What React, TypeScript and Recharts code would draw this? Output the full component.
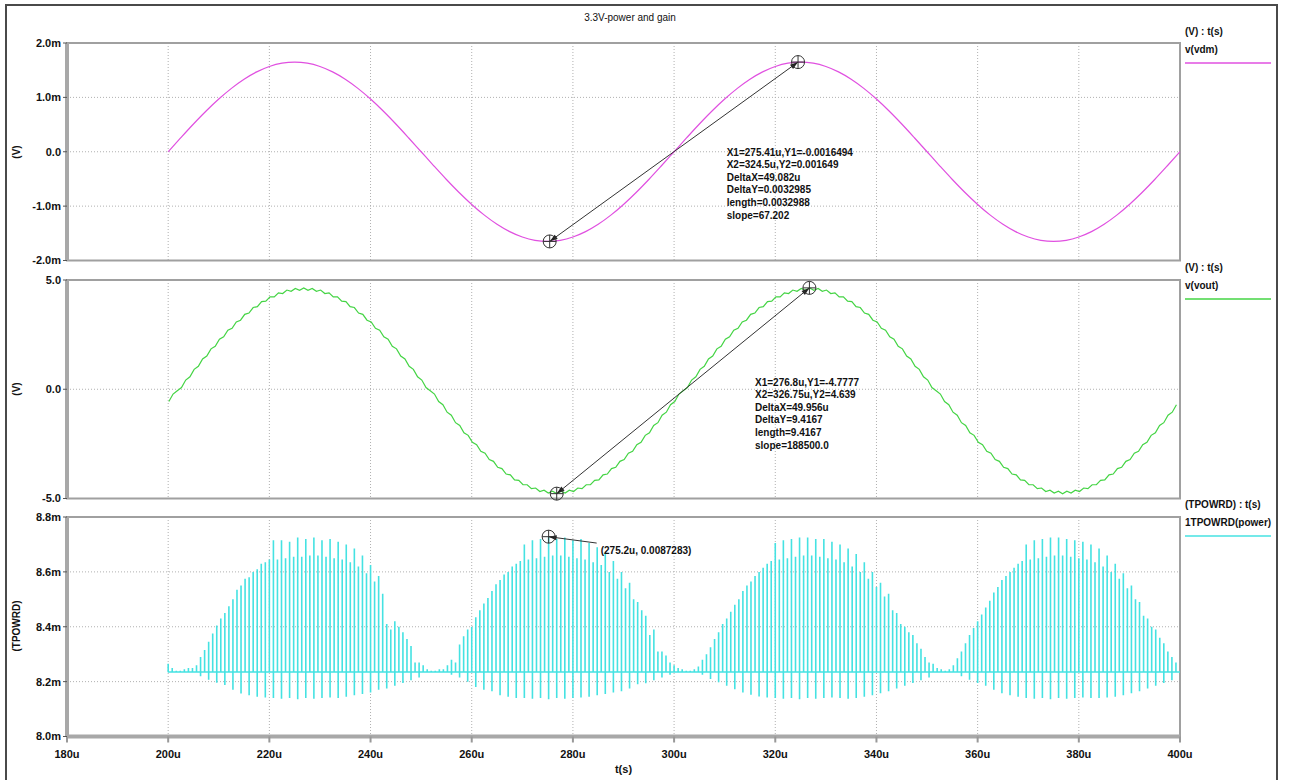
import React from 'react';
import {
  LineChart,
  Line,
  XAxis,
  YAxis,
  CartesianGrid,
  ReferenceArea,
  ReferenceDot,
  ReferenceLine,
} from 'recharts';

const FONT = '"Liberation Sans", Arial, Helvetica, sans-serif';

// ---- shared time axis (microseconds) ----
const TIME_DOMAIN: [number, number] = [180, 400];
const TIME_TICKS = [180, 200, 220, 240, 260, 280, 300, 320, 340, 360, 380, 400];

// ---- v(vdm) in millivolts, one sample every 2.5 us from 200 us ----
const VDM_START_US = 200;
const VDM_STEP_US = 2.5;
const vdmMilli = [
  0, 0.258, 0.51, 0.749, 0.969, 1.166, 1.334, 1.469, 1.568, 1.629, 1.649,
  1.629, 1.568, 1.469, 1.334, 1.166, 0.969, 0.749, 0.51, 0.258, 0,
  -0.258, -0.51, -0.749, -0.969, -1.166, -1.334, -1.469, -1.568, -1.629, -1.649,
  -1.629, -1.568, -1.469, -1.334, -1.166, -0.969, -0.749, -0.51, -0.258, 0,
  0.258, 0.51, 0.749, 0.969, 1.166, 1.334, 1.469, 1.568, 1.629, 1.649,
  1.629, 1.568, 1.469, 1.334, 1.166, 0.969, 0.749, 0.51, 0.258, 0,
  -0.258, -0.51, -0.749, -0.969, -1.166, -1.334, -1.469, -1.568, -1.629, -1.649,
  -1.629, -1.568, -1.469, -1.334, -1.166, -0.969, -0.749, -0.51, -0.258, 0,
];
const VDM_TICKS = [-2, -1, 0, 1, 2];

// ---- v(vout) in volts, sampled every half switching period ----
const VOUT_START_US = 200.133;
const VOUT_STEP_US = 100 / 120;
const voutVolts = [
  -0.56, -0.22, -0.07, 0.08, 0.42, 0.57, 0.91, 1.05, 1.39, 1.52, 1.85, 1.97,
  2.29, 2.4, 2.7, 2.79, 3.08, 3.16, 3.43, 3.49, 3.74, 3.78, 4.01, 4.03,
  4.23, 4.23, 4.41, 4.38, 4.54, 4.48, 4.61, 4.53, 4.64, 4.53, 4.61, 4.48,
  4.54, 4.38, 4.41, 4.23, 4.23, 4.03, 4.01, 3.78, 3.74, 3.49, 3.43, 3.16,
  3.08, 2.79, 2.7, 2.4, 2.29, 1.97, 1.85, 1.52, 1.39, 1.05, 0.91, 0.57,
  0.42, 0.08, -0.07, -0.22, -0.56, -0.71, -1.05, -1.19, -1.53, -1.66, -1.99, -2.11,
  -2.43, -2.54, -2.84, -2.93, -3.22, -3.3, -3.57, -3.63, -3.88, -3.92, -4.15, -4.17,
  -4.37, -4.37, -4.55, -4.52, -4.68, -4.62, -4.75, -4.67, -4.7777, -4.67, -4.75, -4.62,
  -4.68, -4.52, -4.55, -4.37, -4.37, -4.17, -4.15, -3.92, -3.88, -3.63, -3.57, -3.3,
  -3.22, -2.93, -2.84, -2.54, -2.43, -2.11, -1.99, -1.66, -1.53, -1.19, -1.05, -0.71,
  -0.56, -0.22, -0.07, 0.08, 0.42, 0.57, 0.91, 1.05, 1.39, 1.52, 1.85, 1.97,
  2.29, 2.4, 2.7, 2.79, 3.08, 3.16, 3.43, 3.49, 3.74, 3.78, 4.01, 4.03,
  4.23, 4.23, 4.41, 4.38, 4.54, 4.48, 4.61, 4.53, 4.639, 4.53, 4.61, 4.48,
  4.54, 4.38, 4.41, 4.23, 4.23, 4.03, 4.01, 3.78, 3.74, 3.49, 3.43, 3.16,
  3.08, 2.79, 2.7, 2.4, 2.29, 1.97, 1.85, 1.52, 1.39, 1.05, 0.91, 0.57,
  0.42, 0.08, -0.07, -0.22, -0.56, -0.71, -1.05, -1.19, -1.53, -1.66, -1.99, -2.11,
  -2.43, -2.54, -2.84, -2.93, -3.22, -3.3, -3.57, -3.63, -3.88, -3.92, -4.15, -4.17,
  -4.37, -4.37, -4.55, -4.52, -4.68, -4.62, -4.75, -4.67, -4.78, -4.67, -4.75, -4.62,
  -4.68, -4.52, -4.55, -4.37, -4.37, -4.17, -4.15, -3.92, -3.88, -3.63, -3.57, -3.3,
  -3.22, -2.93, -2.84, -2.54, -2.43, -2.11, -1.99, -1.66, -1.53, -1.19, -1.05, -0.71,
];
const VOUT_TICKS = [-5, 0, 5];

// ---- 1TPOWRD(power) in milli-units: idle level, spike tops, spike bottoms ----
const POWER_START_US = 200;
const POWER_SLOT_US = 0.8;
const POWER_IDLE = 8.235;
const powerPeaks = [
  8.265, 8.25, 8.24, 8.24, 8.245, 8.25, 8.25,
  8.26, 8.29, 8.315, 8.345, 8.375, 8.405, 8.43, 8.45, 8.475, 8.5, 8.535, 8.55, 8.575, 8.58,
  8.6, 8.61, 8.63, 8.635, 8.645,
  8.715, 8.645, 8.715, 8.65, 8.71, 8.655, 8.725, 8.655, 8.72, 8.66, 8.725, 8.66, 8.715, 8.655,
  8.72, 8.65, 8.71, 8.645, 8.7, 8.635, 8.685, 8.62, 8.66, 8.595, 8.625, 8.565, 8.585, 8.52,
  8.41, 8.39, 8.42, 8.4, 8.38, 8.355, 8.33, 8.27, 8.27, 8.26, 8.245, 8.24, 8.24, 8.245, 8.245,
  8.26, 8.28, 8.27, 8.335, 8.365, 8.39, 8.4, 8.435, 8.46, 8.485, 8.505, 8.53, 8.555, 8.57,
  8.59, 8.6, 8.62, 8.63, 8.64,
  8.7, 8.645, 8.715, 8.65, 8.72, 8.655, 8.7283, 8.66, 8.72, 8.66, 8.725, 8.655, 8.715, 8.65,
  8.72, 8.645, 8.705, 8.635, 8.69, 8.625, 8.67, 8.6, 8.64, 8.575, 8.6, 8.54, 8.56, 8.5,
  8.49, 8.46, 8.44, 8.37, 8.39, 8.31, 8.31, 8.295, 8.27, 8.26, 8.25, 8.245, 8.24, 8.24, 8.245,
  8.255, 8.28, 8.3, 8.325, 8.355, 8.38, 8.41, 8.43, 8.455, 8.48, 8.5, 8.53, 8.55, 8.565,
  8.585, 8.6, 8.615, 8.63, 8.64,
  8.705, 8.645, 8.715, 8.65, 8.72, 8.655, 8.725, 8.66, 8.725, 8.66, 8.72, 8.655, 8.72, 8.65,
  8.71, 8.645, 8.7, 8.635, 8.685, 8.62, 8.665, 8.6, 8.635, 8.575, 8.6, 8.545, 8.56, 8.51,
  8.52, 8.46,
  8.45, 8.41, 8.4, 8.38, 8.37, 8.34, 8.32, 8.29, 8.27, 8.265, 8.25, 8.245, 8.24, 8.245,
  8.26, 8.285, 8.31, 8.34, 8.37, 8.395, 8.42, 8.445, 8.47, 8.495, 8.525, 8.545, 8.57, 8.585,
  8.6, 8.615, 8.63, 8.64,
  8.7, 8.645, 8.715, 8.65, 8.72, 8.655, 8.725, 8.66, 8.725, 8.66, 8.72, 8.655, 8.715, 8.65,
  8.71, 8.645, 8.7, 8.635, 8.685, 8.62, 8.66, 8.6, 8.63, 8.575, 8.595, 8.54, 8.55, 8.5,
  8.49, 8.44, 8.43, 8.4, 8.39, 8.36, 8.34, 8.31, 8.29, 8.27,
];
// bottoms of the negative spikes, one for every second slot
const powerDips = [
  8.235, 8.235, 8.235, 8.235, 8.22, 8.207, 8.196, 8.188, 8.17, 8.157, 8.15, 8.145, 8.142,
  8.14, 8.138, 8.14, 8.136, 8.14, 8.138, 8.14, 8.142, 8.14, 8.145, 8.15, 8.155, 8.16, 8.17,
  8.175, 8.185, 8.195, 8.205, 8.215, 8.235, 8.235, 8.235,
  8.225, 8.215, 8.2, 8.18, 8.17, 8.165, 8.15, 8.145, 8.14, 8.14, 8.138, 8.14, 8.136, 8.14,
  8.138, 8.14, 8.142, 8.145, 8.15, 8.155, 8.16, 8.165, 8.175, 8.19, 8.194, 8.205, 8.215,
  8.225, 8.235, 8.235, 8.235,
  8.225, 8.21, 8.198, 8.185, 8.172, 8.16, 8.152, 8.146, 8.142, 8.14, 8.138, 8.14, 8.136,
  8.14, 8.138, 8.14, 8.142, 8.14, 8.138, 8.14, 8.145, 8.15, 8.158, 8.165, 8.175, 8.185,
  8.195, 8.205, 8.215, 8.235, 8.235,
  8.235, 8.22, 8.207, 8.195, 8.185, 8.17, 8.158, 8.15, 8.145, 8.14, 8.138, 8.14, 8.136,
  8.14, 8.138, 8.14, 8.142, 8.14, 8.14, 8.142, 8.145, 8.15, 8.158, 8.165, 8.175, 8.185,
  8.195, 8.205,
];
const POWER_TICKS = [8.0, 8.2, 8.4, 8.6, 8.8];

// ---- cursor readouts ----
const vdmCursorA = { t: 275.41, v: -1.6494 };
const vdmCursorB = { t: 324.5, v: 1.649 };
const vdmReadoutAt = { t: 310.4, v: 0 };
const vdmReadout = [
  'X1=275.41u,Y1=-0.0016494',
  'X2=324.5u,Y2=0.001649',
  'DeltaX=49.082u',
  'DeltaY=0.0032985',
  'length=0.0032988',
  'slope=67.202',
];

const voutCursorA = { t: 276.8, v: -4.7777 };
const voutCursorB = { t: 326.75, v: 4.639 };
const voutReadoutAt = { t: 316.0, v: 0 };
const voutReadout = [
  'X1=276.8u,Y1=-4.7777',
  'X2=326.75u,Y2=4.639',
  'DeltaX=49.956u',
  'DeltaY=9.4167',
  'length=9.4167',
  'slope=188500.0',
];

const powerCursor = { t: 275.2, v: 8.7283 };
const powerLeaderEnd = { t: 284.7, v: 8.705 };
const powerReadoutAt = { t: 285.5, v: 8.68 };
const powerReadout = ['(275.2u, 0.0087283)'];

// ---- colours ----
const VDM_COLOR = '#e050e0';
const VOUT_COLOR = '#44d444';
const POWER_COLOR = '#45e2e2';
const GRID_COLOR = '#b0b0b0';
const FRAME_COLOR = '#a0a0a0';
const AXIS_COLOR = '#a8a8a8';
const INK = '#111';

// ---- chart tables built from the arrays above ----
const vdmData = vdmMilli.map((v, i) => ({ t: VDM_START_US + i * VDM_STEP_US, v }));
const voutData = voutVolts.map((v, i) => ({ t: VOUT_START_US + i * VOUT_STEP_US, v }));

const powerData: { t: number; p: number }[] = [{ t: 200, p: POWER_IDLE }];
powerPeaks.forEach((peak, k) => {
  const t = POWER_START_US + k * POWER_SLOT_US;
  const dip = k % 2 === 0 && powerDips[k / 2] !== undefined ? powerDips[k / 2] : POWER_IDLE;
  powerData.push({ t, p: POWER_IDLE }, { t, p: peak }, { t, p: dip }, { t, p: POWER_IDLE });
});
powerData.push({ t: 400, p: POWER_IDLE });

// ---- drawing helpers ----
const tickStyle = { fontSize: 11, fontWeight: 700, fill: INK, fontFamily: FONT };

const milliLabel = (v: number) => (v === 0 ? '0.0' : `${v.toFixed(1)}m`);
const plainLabel = (v: number) => v.toFixed(1);
const timeLabel = (v: number) => `${v}u`;

const arrowHead = (tipX: number, tipY: number, fromX: number, fromY: number) => {
  const ang = Math.atan2(tipY - fromY, tipX - fromX);
  const len = 8;
  const half = 2.6;
  const bx = tipX - len * Math.cos(ang);
  const by = tipY - len * Math.sin(ang);
  const px = -Math.sin(ang) * half;
  const py = Math.cos(ang) * half;
  return (
    <polygon
      points={`${tipX},${tipY} ${bx + px},${by + py} ${bx - px},${by - py}`}
      fill="#222"
    />
  );
};

const makeArrow = (bothEnds: boolean) => (props: any) => {
  const x1 = Number(props.x1);
  const y1 = Number(props.y1);
  const x2 = Number(props.x2);
  const y2 = Number(props.y2);
  return (
    <g>
      <line x1={x1} y1={y1} x2={x2} y2={y2} stroke="#333" strokeWidth={1} />
      {arrowHead(x1, y1, x2, y2)}
      {bothEnds ? arrowHead(x2, y2, x1, y1) : null}
    </g>
  );
};

const CursorMark = (props: any) => {
  const { cx, cy } = props;
  const r = 6.5;
  return (
    <g>
      <circle cx={cx} cy={cy} r={r} fill="none" stroke="#333" strokeWidth={1} />
      <line x1={cx - r} y1={cy} x2={cx + r} y2={cy} stroke="#333" strokeWidth={1} />
      <line x1={cx} y1={cy - r} x2={cx} y2={cy + r} stroke="#333" strokeWidth={1} />
    </g>
  );
};

const makeReadout = (lines: string[], firstBaseline: number) => (props: any) => {
  const { cx, cy } = props;
  return (
    <g>
      {lines.map((s, i) => (
        <text
          key={i}
          x={cx}
          y={cy + firstBaseline + i * 12.6}
          fontSize={10}
          fontWeight={700}
          fontFamily={FONT}
          fill={INK}
        >
          {s}
        </text>
      ))}
    </g>
  );
};

const textStyle: React.CSSProperties = {
  position: 'absolute',
  font: `700 10px ${FONT}`,
  lineHeight: '12px',
  whiteSpace: 'nowrap',
  color: INK,
};

const Legend = ({ top, head, name, color }: { top: number; head: string; name: string; color: string }) => (
  <>
    <div style={{ ...textStyle, left: 1185, top: top - 6 }}>{head}</div>
    <div style={{ ...textStyle, left: 1185, top: top + 12 }}>{name}</div>
    <div style={{ position: 'absolute', left: 1185, top: top + 30, width: 86, height: 2, background: color, opacity: 0.75 }} />
  </>
);

const AxisTitle = ({ text, y }: { text: string; y: number }) => (
  <div
    style={{
      ...textStyle,
      left: 17,
      top: y,
      transform: 'translate(-50%, -50%) rotate(-90deg)',
    }}
  >
    {text}
  </div>
);

export default function App() {
  return (
    <div
      style={{
        position: 'absolute',
        left: 0,
        top: 0,
        width: 1289,
        height: 780,
        background: '#fff',
        overflow: 'hidden',
        fontFamily: FONT,
      }}
    >
      <div
        style={{
          position: 'absolute',
          left: 5,
          top: 4,
          width: 1273,
          height: 778,
          border: '2px solid #4a4a4a',
          boxSizing: 'border-box',
        }}
      />
      <div
        style={{
          ...textStyle,
          font: `400 10px ${FONT}`,
          left: 630,
          top: 12,
          transform: 'translateX(-50%)',
        }}
      >
        3.3V-power and gain
      </div>

      {/* v(vdm) */}
      <LineChart
        width={1289}
        height={270}
        data={vdmData}
        margin={{ top: 43, right: 109, bottom: 9.5, left: 7 }}
        style={{ position: 'absolute', left: 0, top: 0 }}
      >
        <CartesianGrid stroke={GRID_COLOR} strokeDasharray="1 2" />
        <XAxis type="number" dataKey="t" domain={TIME_DOMAIN} ticks={TIME_TICKS} hide />
        <YAxis
          type="number"
          domain={[-2, 2]}
          ticks={VDM_TICKS}
          tickFormatter={milliLabel}
          width={60}
          tick={tickStyle}
          tickSize={4}
          tickMargin={2}
          tickLine={{ stroke: '#555' }}
          axisLine={{ stroke: AXIS_COLOR, strokeWidth: 4 }}
        />
        <ReferenceArea x1={180} x2={400} y1={-2} y2={2} fill="none" stroke={FRAME_COLOR} strokeWidth={2} />
        <Line
          type="monotone"
          dataKey="v"
          stroke={VDM_COLOR}
          strokeWidth={1.2}
          dot={false}
          isAnimationActive={false}
        />
        <ReferenceLine
          segment={[
            { x: vdmCursorA.t, y: vdmCursorA.v },
            { x: vdmCursorB.t, y: vdmCursorB.v },
          ]}
          shape={makeArrow(true)}
        />
        <ReferenceDot x={vdmCursorA.t} y={vdmCursorA.v} r={6} shape={CursorMark} />
        <ReferenceDot x={vdmCursorB.t} y={vdmCursorB.v} r={6} shape={CursorMark} />
        <ReferenceDot x={vdmReadoutAt.t} y={vdmReadoutAt.v} r={1} shape={makeReadout(vdmReadout, 3.9)} />
      </LineChart>

      {/* v(vout) */}
      <LineChart
        width={1289}
        height={237}
        data={voutData}
        margin={{ top: 10, right: 109, bottom: 8.5, left: 7 }}
        style={{ position: 'absolute', left: 0, top: 270 }}
      >
        <CartesianGrid stroke={GRID_COLOR} strokeDasharray="1 2" />
        <XAxis type="number" dataKey="t" domain={TIME_DOMAIN} ticks={TIME_TICKS} hide />
        <YAxis
          type="number"
          domain={[-5, 5]}
          ticks={VOUT_TICKS}
          tickFormatter={plainLabel}
          width={60}
          tick={tickStyle}
          tickSize={4}
          tickMargin={2}
          tickLine={{ stroke: '#555' }}
          axisLine={{ stroke: AXIS_COLOR, strokeWidth: 4 }}
        />
        <ReferenceArea x1={180} x2={400} y1={-5} y2={5} fill="none" stroke={FRAME_COLOR} strokeWidth={2} />
        <Line
          type="linear"
          dataKey="v"
          stroke={VOUT_COLOR}
          strokeWidth={1.2}
          dot={false}
          isAnimationActive={false}
        />
        <ReferenceLine
          segment={[
            { x: voutCursorA.t, y: voutCursorA.v },
            { x: voutCursorB.t, y: voutCursorB.v },
          ]}
          shape={makeArrow(true)}
        />
        <ReferenceDot x={voutCursorA.t} y={voutCursorA.v} r={6} shape={CursorMark} />
        <ReferenceDot x={voutCursorB.t} y={voutCursorB.v} r={6} shape={CursorMark} />
        <ReferenceDot x={voutReadoutAt.t} y={voutReadoutAt.v} r={1} shape={makeReadout(voutReadout, -3.6)} />
      </LineChart>

      {/* 1TPOWRD(power) */}
      <LineChart
        width={1289}
        height={273}
        data={powerData}
        margin={{ top: 10, right: 109, bottom: 3.5, left: 7 }}
        style={{ position: 'absolute', left: 0, top: 507 }}
      >
        <CartesianGrid stroke={GRID_COLOR} strokeDasharray="1 2" />
        <XAxis
          type="number"
          dataKey="t"
          domain={TIME_DOMAIN}
          ticks={TIME_TICKS}
          tickFormatter={timeLabel}
          height={40}
          tick={tickStyle}
          tickSize={6}
          tickMargin={8}
          tickLine={{ stroke: '#999', strokeWidth: 2 }}
          axisLine={{ stroke: AXIS_COLOR, strokeWidth: 4 }}
          label={{
            value: 't(s)',
            position: 'insideBottom',
            offset: 4,
            style: { fontSize: 11, fontWeight: 700, fill: INK, fontFamily: FONT },
          }}
        />
        <YAxis
          type="number"
          domain={[8.0, 8.8]}
          ticks={POWER_TICKS}
          tickFormatter={milliLabel}
          width={60}
          tick={tickStyle}
          tickSize={4}
          tickMargin={2}
          tickLine={{ stroke: '#555' }}
          axisLine={{ stroke: AXIS_COLOR, strokeWidth: 4 }}
        />
        <ReferenceArea x1={180} x2={400} y1={8.0} y2={8.8} fill="none" stroke={FRAME_COLOR} strokeWidth={2} />
        <Line
          type="linear"
          dataKey="p"
          stroke={POWER_COLOR}
          strokeWidth={1.6}
          strokeLinejoin="bevel"
          dot={false}
          isAnimationActive={false}
        />
        <ReferenceLine
          segment={[
            { x: powerCursor.t, y: powerCursor.v },
            { x: powerLeaderEnd.t, y: powerLeaderEnd.v },
          ]}
          shape={makeArrow(false)}
        />
        <ReferenceDot x={powerCursor.t} y={powerCursor.v} r={6} shape={CursorMark} />
        <ReferenceDot x={powerReadoutAt.t} y={powerReadoutAt.v} r={1} shape={makeReadout(powerReadout, 3.6)} />
      </LineChart>

      <AxisTitle text="(V)" y={152} />
      <AxisTitle text="(V)" y={389} />
      <AxisTitle text="(TPOWRD)" y={626} />

      <Legend top={32} head="(V) : t(s)" name="v(vdm)" color={VDM_COLOR} />
      <Legend top={268} head="(V) : t(s)" name="v(vout)" color={VOUT_COLOR} />
      <Legend top={505} head="(TPOWRD) : t(s)" name="1TPOWRD(power)" color={POWER_COLOR} />
    </div>
  );
}
